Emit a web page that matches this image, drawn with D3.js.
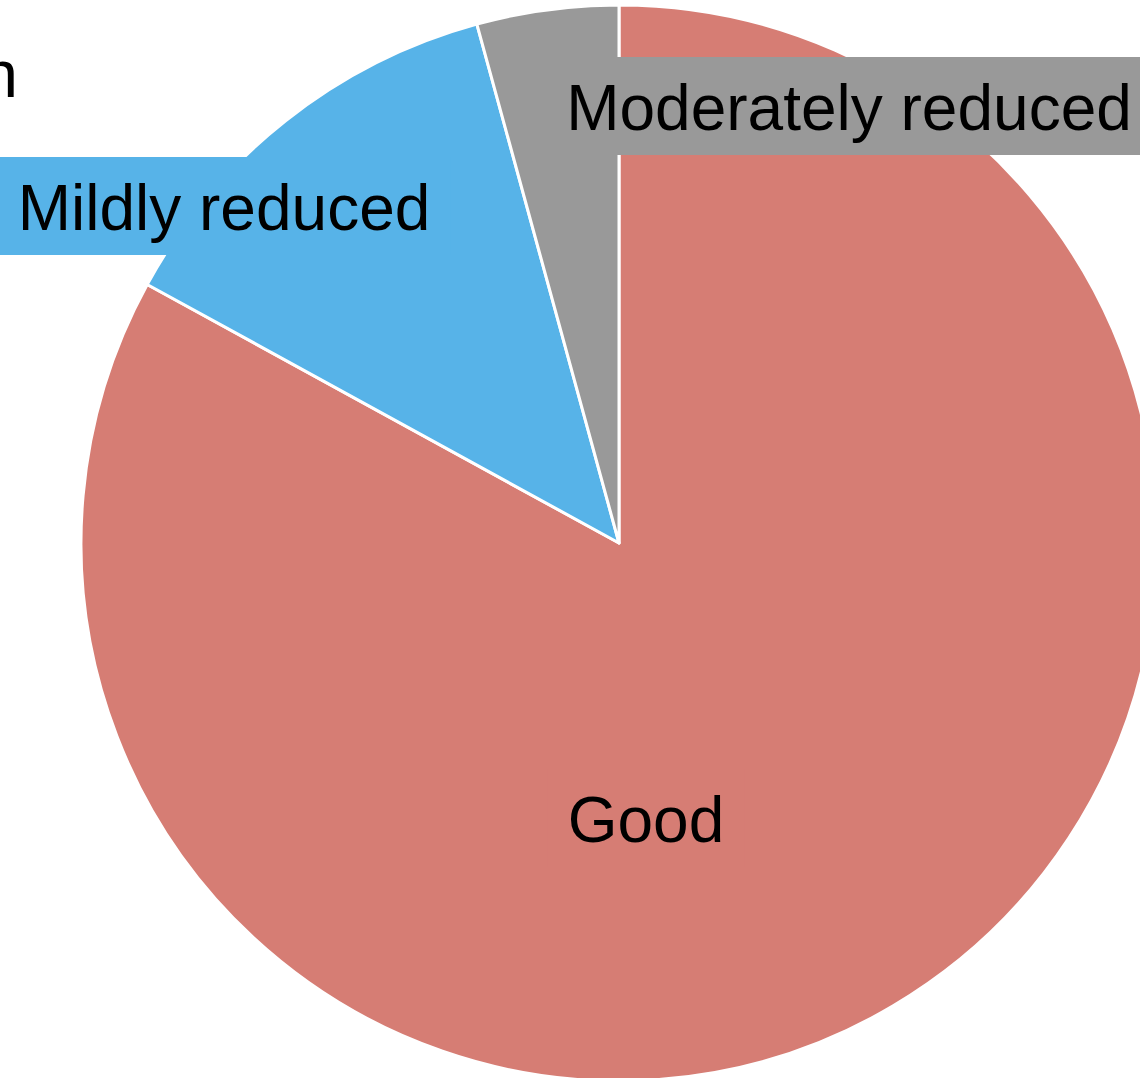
<!DOCTYPE html>
<html lang="en">
<head>
  <meta charset="UTF-8">
  <title>Pie</title>
  <style>
  * { margin: 0; padding: 0; }
  body { background: #fff; overflow: hidden; }
  </style>
  <script src="https://cdn.jsdelivr.net/npm/d3@7"></script>
</head>
<body>
<svg width="1140" height="1078" id="svg1"></svg>
<script>
// data
const categories = ["Good", "Mildly reduced", "Moderately reduced"];
const counts = [195, 30, 10];
const colors = ["#d67d74", "#57b3e8", "#999999"];
const title = "Renal function";

// label spots (page px), picked by eye like a repel layout
const labelSpots = [[646, 842], [224, 230], [849, 130]];

const svg = d3.select("#svg1");
const cx = 619, cy = 543, R = 538;
const fontSize = 64;

const color = d3.scaleOrdinal().domain(categories).range(colors);

const pie = d3.pie().sort(null).value(d => d.count);
const arcs = pie(categories.map((c, i) => ({ name: c, count: counts[i] })));
const arc = d3.arc().innerRadius(0).outerRadius(R);

const g = svg.append("g").attr("transform", `translate(${cx},${cy})`);

// slices
g.selectAll("path").data(arcs).enter()
  .append("path")
  .attr("d", arc)
  .attr("fill", d => color(d.data.name))
  .attr("stroke", "#fff")
  .attr("stroke-width", 3)
  .attr("stroke-linejoin", "round");

// title (runs off the left edge, as in the original)
svg.append("text")
  .attr("x", 18).attr("y", 97)
  .attr("text-anchor", "end")
  .attr("font-family", "Liberation Sans, Arial, sans-serif")
  .attr("font-size", 66)
  .attr("fill", "#000")
  .text(title);

// labels with filled boxes
const labels = svg.append("g");
arcs.forEach((d, i) => {
  const [lx, ly] = labelSpots[i];
  const lg = labels.append("g");
  const rect = lg.append("rect").attr("fill", color(d.data.name));
  const t = lg.append("text")
    .attr("x", lx).attr("y", ly)
    .attr("text-anchor", "middle")
    .attr("font-family", "Liberation Sans, Arial, sans-serif")
    .attr("font-size", fontSize)
    .attr("fill", "#000")
    .text(d.data.name);
  const w = t.node().getComputedTextLength();
  const pad = 20;
  rect.attr("x", lx - w / 2 - pad)
    .attr("y", ly - 73)
    .attr("width", w + 2 * pad)
    .attr("height", 98);
});
</script>
</body>
</html>
